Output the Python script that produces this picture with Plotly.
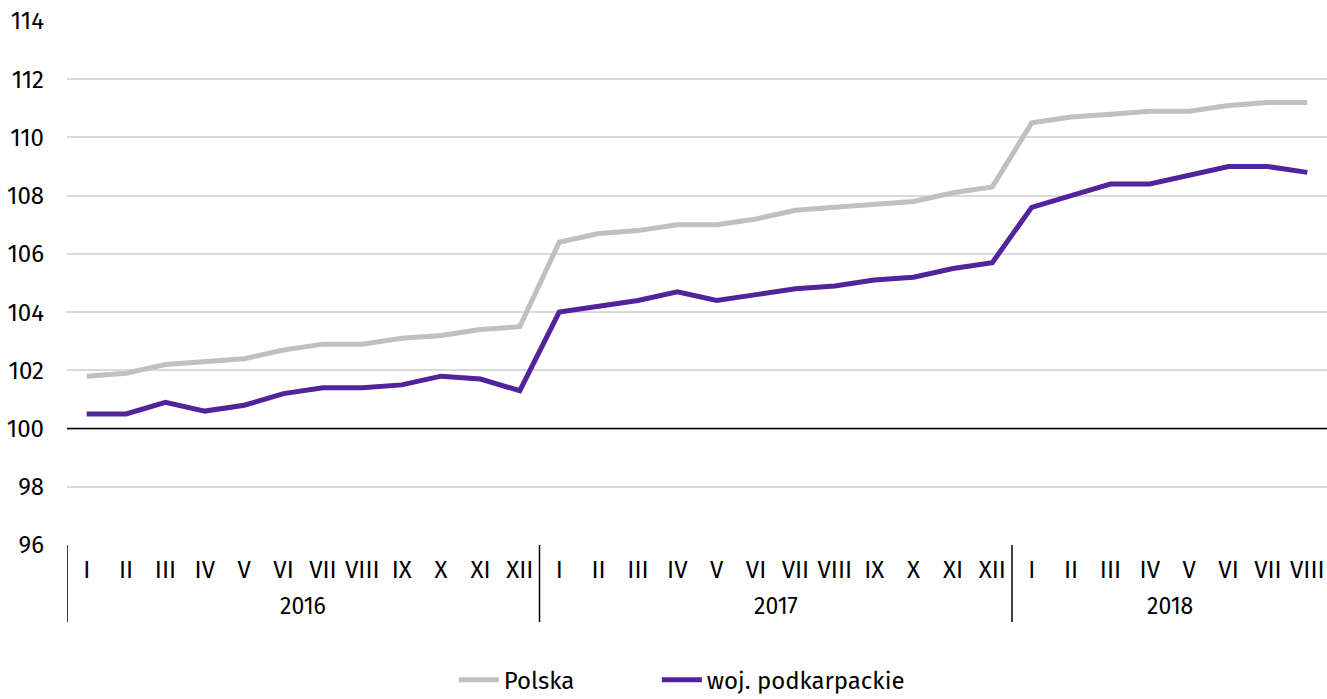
import plotly.graph_objects as go

years = ["2016"] * 12 + ["2017"] * 12 + ["2018"] * 8
months = ["I", "II", "III", "IV", "V", "VI", "VII", "VIII", "IX", "X", "XI", "XII"] * 2 + \
         ["I", "II", "III", "IV", "V", "VI", "VII", "VIII"]

polska = [101.8, 101.9, 102.2, 102.3, 102.4, 102.7, 102.9, 102.9, 103.1, 103.2, 103.4, 103.5,
          106.4, 106.7, 106.8, 107.0, 107.0, 107.2, 107.5, 107.6, 107.7, 107.8, 108.1, 108.3,
          110.5, 110.7, 110.8, 110.9, 110.9, 111.1, 111.2, 111.2]
podkarpackie = [100.5, 100.5, 100.9, 100.6, 100.8, 101.2, 101.4, 101.4, 101.5, 101.8, 101.7, 101.3,
                104.0, 104.2, 104.4, 104.7, 104.4, 104.6, 104.8, 104.9, 105.1, 105.2, 105.5, 105.7,
                107.6, 108.0, 108.4, 108.4, 108.7, 109.0, 109.0, 108.8]

font_family = "Fira Sans, Noto Sans, sans-serif"
idx = list(range(len(months)))

fig = go.Figure()
fig.add_trace(go.Scatter(x=idx, y=polska, mode="lines", name="Polska",
                         line=dict(color="#c0c0c0", width=5), legend="legend"))
fig.add_trace(go.Scatter(x=idx, y=podkarpackie, mode="lines", name="woj. podkarpackie",
                         line=dict(color="#51249b", width=5), legend="legend2"))

# baseline at 100
fig.add_hline(y=100, line=dict(color="black", width=1.5), layer="above")

# year groups: divider lines and centred year labels below the month labels
year_names = list(dict.fromkeys(years))
for yname in year_names:
    members = [i for i, v in enumerate(years) if v == yname]
    start, end = members[0], members[-1]
    fig.add_shape(type="line", xref="x", yref="paper", x0=start - 0.5, x1=start - 0.5,
                  y0=0, y1=-0.147, line=dict(color="black", width=1.5))
    fig.add_annotation(x=(start + end) / 2, xref="x", y=-0.117, yref="paper",
                       text=yname, showarrow=False, font=dict(size=23),
                       xanchor="center", yanchor="middle")

legend_style = dict(orientation="h", xref="container", yref="container", xanchor="left",
                    y=0.027, yanchor="middle", font=dict(size=24), itemwidth=40)

fig.update_layout(
    width=1327, height=699,
    margin=dict(l=67, r=0, t=21, b=154),
    plot_bgcolor="white", paper_bgcolor="white",
    font=dict(family=font_family, size=21, color="black"),
    showlegend=True,
    legend=dict(x=0.342, **legend_style),
    legend2=dict(x=0.495, **legend_style),
    yaxis=dict(range=[96, 114], dtick=2, showgrid=True, gridcolor="#d9d9d9", gridwidth=1.5,
               zeroline=False, showline=False, ticks="", tickfont=dict(size=24),
               ticklabelstandoff=22, automargin=False),
    xaxis=dict(range=[-0.5, len(months) - 0.5], tickmode="array", tickvals=idx, ticktext=months,
               showgrid=False, showline=False, zeroline=False, ticks="",
               tickfont=dict(size=24), automargin=False, ticklabelstandoff=8),
)

fig.write_html("out.html", post_script="document.body.style.margin='0';",
               config={"displayModeBar": False})
